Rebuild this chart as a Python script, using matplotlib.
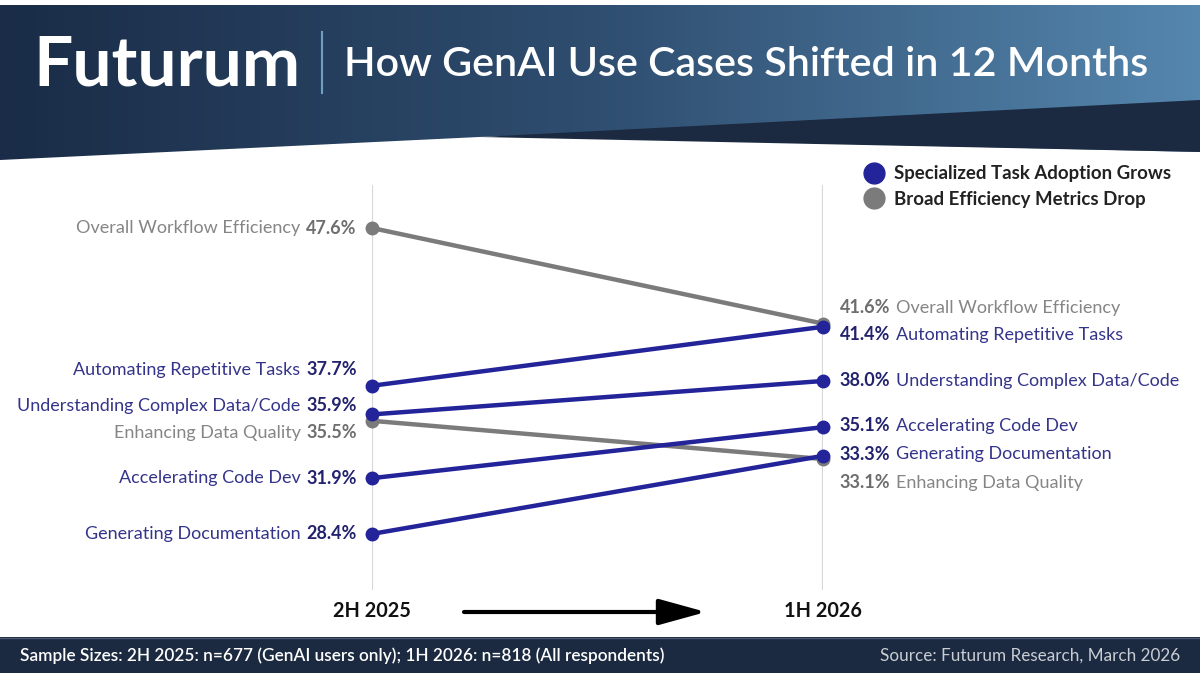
import numpy as np
import matplotlib.pyplot as plt
from matplotlib.patches import Polygon, Rectangle
from matplotlib.colors import LinearSegmentedColormap
from matplotlib.lines import Line2D

plt.rcParams['font.family'] = ['Lato', 'DejaVu Sans']

# data
use_cases = ['Overall Workflow Efficiency', 'Automating Repetitive Tasks',
             'Understanding Complex Data/Code', 'Enhancing Data Quality',
             'Accelerating Code Dev', 'Generating Documentation']
values_2h2025 = [47.6, 37.7, 35.9, 35.5, 31.9, 28.4]
values_1h2026 = [41.6, 41.4, 38.0, 33.1, 35.1, 33.3]
groups = ['broad', 'special', 'special', 'broad', 'special', 'special']
periods = ['2H 2025', '1H 2026']
legend_labels = ['Specialized Task Adoption Grows', 'Broad Efficiency Metrics Drop']

# label nudges (in % units) so crowded labels don't overlap
left_nudge = [0, 1.0, 0.55, -0.75, 0, 0]
right_nudge = [1.0, -0.5, 0, -1.5, 0.1, 0.1]

BLUE = '#23239a'
GRAY = '#7b7b7b'
TXT = {'special': ('#34348a', '#22226e'), 'broad': ('#858585', '#6e6e6e')}
NAVY = '#1b2a40'
LBL_SIZE = 13

fig = plt.figure(figsize=(12, 6.8), dpi=100)

# background / decoration axes in pixel units
bg = fig.add_axes([0, 0, 1, 1])
bg.set_xlim(0, 1200)
bg.set_ylim(680, 0)
bg.axis('off')

header = Polygon([(0, 5), (1200, 5), (1200, 152), (500, 136), (0, 160)],
                 closed=True, facecolor='none', edgecolor='none')
bg.add_patch(header)
cmap = LinearSegmentedColormap.from_list('hdr', ['#1a2c47', '#2f4e70', '#5586ae'])
grad = np.tile(np.linspace(0, 1, 300), (20, 1))
im = bg.imshow(grad, extent=(0, 1200, 160, 5), cmap=cmap, aspect='auto', zorder=0)
im.set_clip_path(header)
bg.add_patch(Polygon([(480, 137), (1200, 100), (1200, 152)], closed=True,
                     facecolor=NAVY, edgecolor='none', zorder=1))

bg.text(33, 66, 'Futurum', color='white', fontsize=50, fontweight='bold',
        va='center', ha='left')
bg.plot([322, 322], [32, 93], color='#6f9fc9', lw=1.5)
bg.text(344, 64, 'How GenAI Use Cases Shifted in 12 Months', color='white',
        fontsize=29.7, fontweight='semibold', va='center', ha='left')

# footer
bg.add_patch(Rectangle((0, 637), 1200, 36, facecolor=NAVY, edgecolor='none'))
bg.plot([0, 1200], [637.5, 637.5], color='#4a5a70', lw=1)
bg.text(20, 656, 'Sample Sizes: 2H 2025: n=677 (GenAI users only); 1H 2026: n=818 (All respondents)',
        color='white', fontsize=12.4, fontweight='semibold', va='center', ha='left')
bg.text(1180, 656, 'Source: Futurum Research, March 2026', color='#c9cdd4',
        fontsize=12.3, va='center', ha='right')

# period labels and arrow
bg.text(372, 611, periods[0], fontsize=14.3, fontweight='bold', ha='center', va='center', color='#111111')
bg.text(823, 611, periods[1], fontsize=14.3, fontweight='bold', ha='center', va='center', color='#111111')
bg.annotate('', xy=(706, 612), xytext=(464, 612),
            arrowprops=dict(arrowstyle='-|>,head_length=1.45,head_width=0.4',
                            mutation_scale=20, lw=3, color='black',
                            shrinkA=0, shrinkB=0))

# slope chart axes
ax = fig.add_axes([372 / 1200, 90 / 680, 451 / 1200, 405 / 680])
ax.patch.set_alpha(0)
ax.set_xlim(0, 1)
ax.set_ylim(24.88, 50.3)
ax.axis('off')
ax.axvline(0, color='#d8d8d8', lw=1.6, zorder=1)
ax.axvline(1, color='#d8d8d8', lw=1.6, zorder=1)

for name, v0, v1, g, n0, n1 in zip(use_cases, values_2h2025, values_1h2026,
                                   groups, left_nudge, right_nudge):
    col = BLUE if g == 'special' else GRAY
    z = 4 if g == 'special' else 3
    if name == 'Overall Workflow Efficiency':
        z = 2
    ax.plot([0, 1], [v0, v1], color=col, lw=3.2, marker='o', ms=9,
            clip_on=False, solid_capstyle='round', zorder=z)
    c_txt, c_val = TXT[g]
    t = ax.annotate(f'{v0:.1f}%', xy=(0, v0 + n0), xytext=(-11, 0),
                    textcoords='offset points', ha='right', va='center',
                    fontsize=LBL_SIZE, fontweight='bold', color=c_val)
    ax.annotate(name, xy=(0, 0.5), xycoords=t, xytext=(-4, 0),
                textcoords='offset points', ha='right', va='center',
                fontsize=LBL_SIZE, color=c_txt)
    t = ax.annotate(f'{v1:.1f}%', xy=(1, v1 + n1), xytext=(12, 0),
                    textcoords='offset points', ha='left', va='center',
                    fontsize=LBL_SIZE, fontweight='bold', color=c_val)
    ax.annotate(name, xy=(1, 0.5), xycoords=t, xytext=(4, 0),
                textcoords='offset points', ha='left', va='center',
                fontsize=LBL_SIZE, color=c_txt)

handles = [Line2D([], [], ls='none', marker='o', ms=15, color=BLUE),
           Line2D([], [], ls='none', marker='o', ms=15, color=GRAY)]
fig.legend(handles, legend_labels, loc='upper left',
           bbox_to_anchor=(855 / 1200, 1 - 158 / 680), frameon=False,
           prop={'size': 13.4, 'weight': 'bold'}, handletextpad=0.5,
           labelspacing=0.45, handlelength=1.2, borderaxespad=0,
           labelcolor='#222222')

fig.savefig('out.png', dpi=100)
